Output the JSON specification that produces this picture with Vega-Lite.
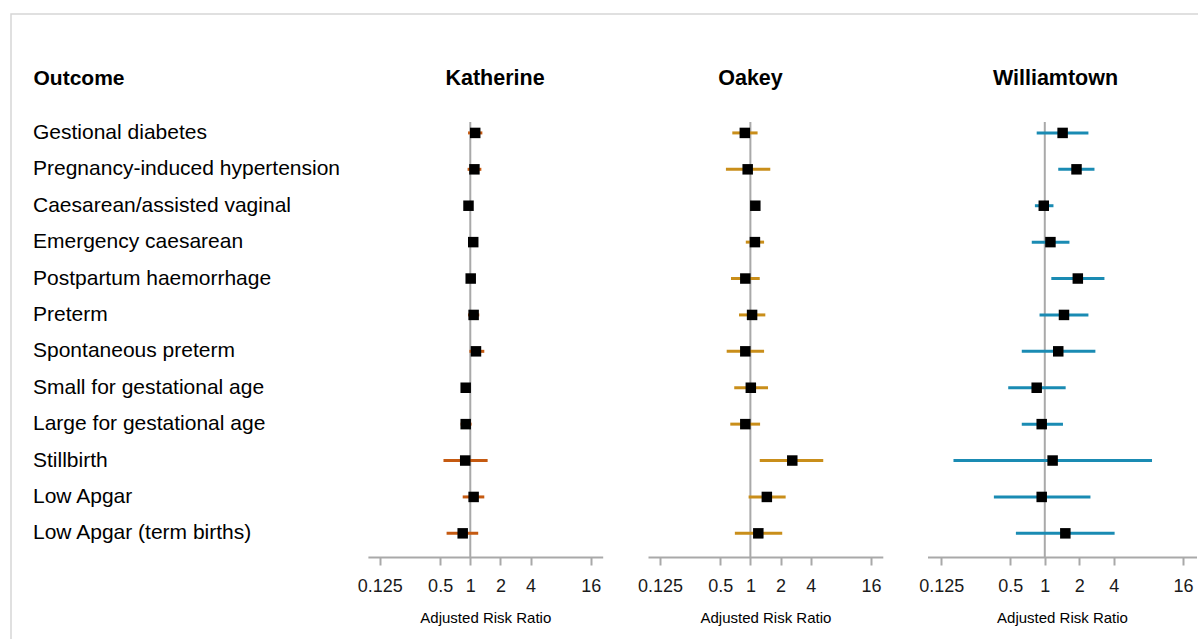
{
  "$schema": "https://vega.github.io/schema/vega-lite/v6.json",
  "width": 1190,
  "height": 628,
  "autosize": "none",
  "padding": {"left": 11, "top": 14, "right": -3, "bottom": -3},
  "background": "white",
  "config": {
    "font": "Liberation Sans",
    "view": {"stroke": "#d6d6d6", "strokeWidth": 1.5}
  },
  "data": {
    "values": [
      {"site": "Katherine", "row": 1, "outcome": "Gestional diabetes", "rr": 1.12, "lo": 0.95, "hi": 1.32},
      {"site": "Katherine", "row": 2, "outcome": "Pregnancy-induced hypertension", "rr": 1.10, "lo": 0.94, "hi": 1.29},
      {"site": "Katherine", "row": 3, "outcome": "Caesarean/assisted vaginal", "rr": 0.96, "lo": 0.93, "hi": 0.99},
      {"site": "Katherine", "row": 4, "outcome": "Emergency caesarean", "rr": 1.07, "lo": 1.01, "hi": 1.15},
      {"site": "Katherine", "row": 5, "outcome": "Postpartum haemorrhage", "rr": 1.01, "lo": 0.91, "hi": 1.12},
      {"site": "Katherine", "row": 6, "outcome": "Preterm", "rr": 1.08, "lo": 0.95, "hi": 1.23},
      {"site": "Katherine", "row": 7, "outcome": "Spontaneous preterm", "rr": 1.14, "lo": 0.98, "hi": 1.38},
      {"site": "Katherine", "row": 8, "outcome": "Small for gestational age", "rr": 0.90, "lo": 0.87, "hi": 0.93},
      {"site": "Katherine", "row": 9, "outcome": "Large for gestational age", "rr": 0.90, "lo": 0.80, "hi": 1.03},
      {"site": "Katherine", "row": 10, "outcome": "Stillbirth", "rr": 0.89, "lo": 0.54, "hi": 1.49},
      {"site": "Katherine", "row": 11, "outcome": "Low Apgar", "rr": 1.08, "lo": 0.84, "hi": 1.38},
      {"site": "Katherine", "row": 12, "outcome": "Low Apgar (term births)", "rr": 0.84, "lo": 0.58, "hi": 1.20},
      {"site": "Oakey", "row": 1, "outcome": "Gestional diabetes", "rr": 0.88, "lo": 0.66, "hi": 1.18},
      {"site": "Oakey", "row": 2, "outcome": "Pregnancy-induced hypertension", "rr": 0.94, "lo": 0.57, "hi": 1.58},
      {"site": "Oakey", "row": 3, "outcome": "Caesarean/assisted vaginal", "rr": 1.12, "lo": 1.06, "hi": 1.20},
      {"site": "Oakey", "row": 4, "outcome": "Emergency caesarean", "rr": 1.11, "lo": 0.90, "hi": 1.37},
      {"site": "Oakey", "row": 5, "outcome": "Postpartum haemorrhage", "rr": 0.89, "lo": 0.64, "hi": 1.24},
      {"site": "Oakey", "row": 6, "outcome": "Preterm", "rr": 1.04, "lo": 0.77, "hi": 1.41},
      {"site": "Oakey", "row": 7, "outcome": "Spontaneous preterm", "rr": 0.89, "lo": 0.58, "hi": 1.37},
      {"site": "Oakey", "row": 8, "outcome": "Small for gestational age", "rr": 1.01, "lo": 0.69, "hi": 1.50},
      {"site": "Oakey", "row": 9, "outcome": "Large for gestational age", "rr": 0.89, "lo": 0.63, "hi": 1.25},
      {"site": "Oakey", "row": 10, "outcome": "Stillbirth", "rr": 2.62, "lo": 1.24, "hi": 5.34},
      {"site": "Oakey", "row": 11, "outcome": "Low Apgar", "rr": 1.46, "lo": 0.96, "hi": 2.25},
      {"site": "Oakey", "row": 12, "outcome": "Low Apgar (term births)", "rr": 1.20, "lo": 0.70, "hi": 2.08},
      {"site": "Williamtown", "row": 1, "outcome": "Gestional diabetes", "rr": 1.43, "lo": 0.85, "hi": 2.40},
      {"site": "Williamtown", "row": 2, "outcome": "Pregnancy-induced hypertension", "rr": 1.89, "lo": 1.31, "hi": 2.71},
      {"site": "Williamtown", "row": 3, "outcome": "Caesarean/assisted vaginal", "rr": 0.98, "lo": 0.82, "hi": 1.19},
      {"site": "Williamtown", "row": 4, "outcome": "Emergency caesarean", "rr": 1.12, "lo": 0.77, "hi": 1.64},
      {"site": "Williamtown", "row": 5, "outcome": "Postpartum haemorrhage", "rr": 1.94, "lo": 1.14, "hi": 3.31},
      {"site": "Williamtown", "row": 6, "outcome": "Preterm", "rr": 1.47, "lo": 0.90, "hi": 2.40},
      {"site": "Williamtown", "row": 7, "outcome": "Spontaneous preterm", "rr": 1.31, "lo": 0.63, "hi": 2.76},
      {"site": "Williamtown", "row": 8, "outcome": "Small for gestational age", "rr": 0.85, "lo": 0.48, "hi": 1.52},
      {"site": "Williamtown", "row": 9, "outcome": "Large for gestational age", "rr": 0.94, "lo": 0.63, "hi": 1.44},
      {"site": "Williamtown", "row": 10, "outcome": "Stillbirth", "rr": 1.17, "lo": 0.16, "hi": 8.6},
      {"site": "Williamtown", "row": 11, "outcome": "Low Apgar", "rr": 0.94, "lo": 0.36, "hi": 2.50},
      {"site": "Williamtown", "row": 12, "outcome": "Low Apgar (term births)", "rr": 1.51, "lo": 0.56, "hi": 4.06}
    ]
  },
  "layer": [
    {
      "transform": [{"filter": "datum.site === 'Katherine'"}],
      "mark": {"type": "text", "align": "left", "baseline": "middle", "fontSize": 21, "color": "#000000"},
      "encoding": {
        "y": {"field": "row", "type": "quantitative", "scale": {"domain": [0.7, 12.65], "range": [108, 543], "nice": false, "zero": false}, "axis": null},
        "x": {"datum": 0, "type": "quantitative", "scale": {"domain": [0, 1], "range": [22, 300]},
          "axis": {"orient": "top", "domain": false, "ticks": false, "labels": false, "grid": false, "title": "Outcome", "titleFontSize": 21, "titleFontWeight": "bold", "titleColor": "#000000", "titleX": 22, "titleY": 70, "titleAlign": "left", "titleBaseline": "alphabetic"}},
        "text": {"field": "outcome"}
      }
    },
    {
      "layer": [
        {
          "data": {"values": [{"ref": 1}]},
          "mark": {"type": "rule", "color": "#a9a9a9", "strokeWidth": 2},
          "encoding": {
            "x": {"field": "ref", "type": "quantitative", "scale": {"type": "log", "base": 2, "domain": [0.095, 21], "range": [356.9, 591.7], "nice": false},
              "axis": {"orient": "top", "domain": false, "ticks": false, "labels": false, "grid": false, "title": "Katherine", "titleFontSize": 21.5, "titleFontWeight": "bold", "titleColor": "#000000", "titleX": 483.5, "titleY": 70, "titleAlign": "center", "titleBaseline": "alphabetic"}},
            "y": {"datum": 0.7, "type": "quantitative", "axis": null},
            "y2": {"datum": 12.65}
          }
        },
        {
          "transform": [{"filter": "datum.site === 'Katherine'"}],
          "mark": {"type": "rule", "color": "#c55a11", "strokeWidth": 3},
          "encoding": {
            "x": {"field": "lo", "type": "quantitative",
              "axis": {"orient": "bottom", "offset": -85, "values": [0.125, 0.5, 1, 2, 4, 16], "format": "~g", "grid": false, "domainColor": "#a9a9a9", "domainWidth": 2, "tickColor": "#a9a9a9", "tickWidth": 2, "tickSize": 8, "labelFontSize": 18, "labelColor": "#1a1a1a", "labelPadding": 12, "labelFlush": false, "labelOverlap": false, "title": "Adjusted Risk Ratio", "titleFontSize": 15, "titleFontWeight": "normal", "titleColor": "#000000", "titleY": 65, "titleBaseline": "alphabetic"}},
            "x2": {"field": "hi"},
            "y": {"field": "row", "type": "quantitative", "axis": null}
          }
        },
        {
          "transform": [{"filter": "datum.site === 'Katherine'"}],
          "mark": {"type": "square", "color": "#000000", "size": 110, "opacity": 1, "filled": true},
          "encoding": {
            "x": {"field": "rr", "type": "quantitative", "axis": null},
            "y": {"field": "row", "type": "quantitative", "axis": null}
          }
        }
      ],
      "resolve": {"axis": {"x": "independent"}}
    },
    {
      "layer": [
        {
          "data": {"values": [{"ref": 1}]},
          "mark": {"type": "rule", "color": "#a9a9a9", "strokeWidth": 2},
          "encoding": {
            "x": {"field": "ref", "type": "quantitative", "scale": {"type": "log", "base": 2, "domain": [0.095, 21], "range": [637, 871.8], "nice": false},
              "axis": {"orient": "top", "domain": false, "ticks": false, "labels": false, "grid": false, "title": "Oakey", "titleFontSize": 21.5, "titleFontWeight": "bold", "titleColor": "#000000", "titleX": 739, "titleY": 70, "titleAlign": "center", "titleBaseline": "alphabetic"}},
            "y": {"datum": 0.7, "type": "quantitative", "axis": null},
            "y2": {"datum": 12.65}
          }
        },
        {
          "transform": [{"filter": "datum.site === 'Oakey'"}],
          "mark": {"type": "rule", "color": "#c98e1a", "strokeWidth": 3},
          "encoding": {
            "x": {"field": "lo", "type": "quantitative",
              "axis": {"orient": "bottom", "offset": -85, "values": [0.125, 0.5, 1, 2, 4, 16], "format": "~g", "grid": false, "domainColor": "#a9a9a9", "domainWidth": 2, "tickColor": "#a9a9a9", "tickWidth": 2, "tickSize": 8, "labelFontSize": 18, "labelColor": "#1a1a1a", "labelPadding": 12, "labelFlush": false, "labelOverlap": false, "title": "Adjusted Risk Ratio", "titleFontSize": 15, "titleFontWeight": "normal", "titleColor": "#000000", "titleY": 65, "titleBaseline": "alphabetic"}},
            "x2": {"field": "hi"},
            "y": {"field": "row", "type": "quantitative", "axis": null}
          }
        },
        {
          "transform": [{"filter": "datum.site === 'Oakey'"}],
          "mark": {"type": "square", "color": "#000000", "size": 110, "opacity": 1, "filled": true},
          "encoding": {
            "x": {"field": "rr", "type": "quantitative", "axis": null},
            "y": {"field": "row", "type": "quantitative", "axis": null}
          }
        }
      ],
      "resolve": {"axis": {"x": "independent"}}
    },
    {
      "layer": [
        {
          "data": {"values": [{"ref": 1}]},
          "mark": {"type": "rule", "color": "#a9a9a9", "strokeWidth": 2},
          "encoding": {
            "x": {"field": "ref", "type": "quantitative", "scale": {"type": "log", "base": 2, "domain": [0.095, 21], "range": [916.5, 1185.5], "nice": false},
              "axis": {"orient": "top", "domain": false, "ticks": false, "labels": false, "grid": false, "title": "Williamtown", "titleFontSize": 21.5, "titleFontWeight": "bold", "titleColor": "#000000", "titleX": 1044, "titleY": 70, "titleAlign": "center", "titleBaseline": "alphabetic"}},
            "y": {"datum": 0.7, "type": "quantitative", "axis": null},
            "y2": {"datum": 12.65}
          }
        },
        {
          "transform": [{"filter": "datum.site === 'Williamtown'"}],
          "mark": {"type": "rule", "color": "#1a8bb3", "strokeWidth": 3},
          "encoding": {
            "x": {"field": "lo", "type": "quantitative",
              "axis": {"orient": "bottom", "offset": -85, "values": [0.125, 0.5, 1, 2, 4, 16], "format": "~g", "grid": false, "domainColor": "#a9a9a9", "domainWidth": 2, "tickColor": "#a9a9a9", "tickWidth": 2, "tickSize": 8, "labelFontSize": 18, "labelColor": "#1a1a1a", "labelPadding": 12, "labelFlush": false, "labelOverlap": false, "title": "Adjusted Risk Ratio", "titleFontSize": 15, "titleFontWeight": "normal", "titleColor": "#000000", "titleY": 65, "titleBaseline": "alphabetic"}},
            "x2": {"field": "hi"},
            "y": {"field": "row", "type": "quantitative", "axis": null}
          }
        },
        {
          "transform": [{"filter": "datum.site === 'Williamtown'"}],
          "mark": {"type": "square", "color": "#000000", "size": 110, "opacity": 1, "filled": true},
          "encoding": {
            "x": {"field": "rr", "type": "quantitative", "axis": null},
            "y": {"field": "row", "type": "quantitative", "axis": null}
          }
        }
      ],
      "resolve": {"axis": {"x": "independent"}}
    }
  ],
  "resolve": {"scale": {"x": "independent"}, "axis": {"x": "independent"}}
}
